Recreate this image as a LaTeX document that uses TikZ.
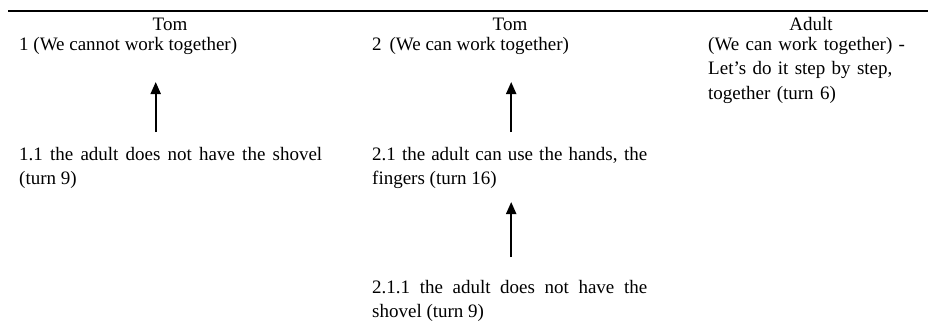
\documentclass[tikz,border=0pt]{standalone}
\usepackage{fontspec}
\setmainfont{Liberation Serif}
\usetikzlibrary{arrows.meta}

\begin{document}
\begin{tikzpicture}[x=1pt,y=-1pt]
            \tikzset{txt/.style = {inner sep=0pt, font=\fontsize{19}{24.8}\selectfont}}
            \tikzset{para/.style = {txt, align=justify}}
            \tikzset{edge/.style = {-{Triangle[length=12pt,width=10pt]}, line width=2pt}}

            \useasboundingbox (0,0) rectangle (929,335);

            \coordinate (rl) at (8,11);
            \coordinate (rr) at (928,11);
            \draw[line width=1.3pt] (rl) -- (rr);

            \node[txt,anchor=base] (h1) at (170,30) {Tom};
            \node[txt,anchor=base] (h2) at (510,30) {Tom};
            \node[txt,anchor=base] (h3) at (811,30) {Adult};

            \node[para,text width=303pt,anchor=base west] (a1) at (19,50) {1 (We cannot work together)};
            \node[para,text width=303pt,anchor=base west] (b1) at (19,160) {1.1 the adult does not have the shovel\linebreak (turn 9)};

            \node[para,text width=275pt,anchor=base west] (a2) at (372,50) {2\ \,(We can work together)};
            \node[para,text width=275pt,anchor=base west] (b2) at (372,160) {2.1 the adult can use the hands, the\linebreak fingers (turn 16)};
            \node[para,text width=275pt,anchor=base west] (c2) at (372,293) {2.1.1 the adult does not have the\linebreak shovel (turn 9)};

            \node[txt,text width=206pt,align=left,anchor=base west] (a3) at (708,50) {(We can work together) -\\Let’s do it step by step,\\together (turn 6)};

            \draw[edge] ([xshift=-15pt,yshift=28pt]b1.base) -- ([xshift=-15pt,yshift=-32pt]a1.base);
            \draw[edge] ([xshift=1.5pt,yshift=28pt]b2.base) -- ([xshift=1.5pt,yshift=-32pt]a2.base);
            \draw[edge] ([xshift=1.5pt,yshift=36pt]c2.base) -- ([xshift=1.5pt,yshift=-42pt]b2.base);
          \end{tikzpicture}
\end{document}
